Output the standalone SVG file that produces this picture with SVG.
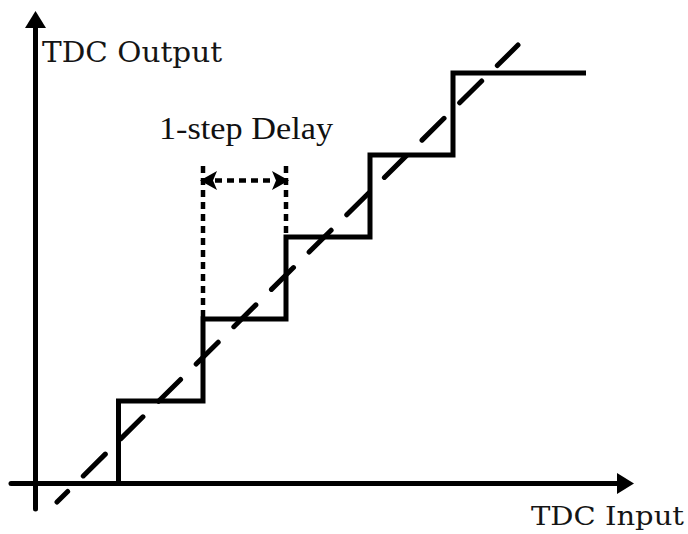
<svg xmlns="http://www.w3.org/2000/svg" width="688" height="534" viewBox="0 0 688 534">
  <style>
    .axis { stroke: #000; stroke-width: 5; fill: none; stroke-linecap: round; }
    .step { stroke: #000; stroke-width: 5; fill: none; stroke-linejoin: miter; stroke-linecap: butt; }
    .ideal { stroke: #000; stroke-width: 5; fill: none; stroke-dasharray: 31 22; stroke-dashoffset: 16; stroke-linecap: round; }
    .dot { stroke: #000; stroke-width: 4.5; fill: none; stroke-dasharray: 7 5; }
    .lbl { font-family: "DejaVu Serif", "Liberation Serif", serif; fill: #151515; }
  </style>
  <rect width="688" height="534" fill="#fff"/>

  <g id="axes">
    <line class="axis" x1="35.5" y1="509" x2="35.5" y2="26"/>
    <polygon points="35.5,11 46,28 25,28" fill="#000"/>
    <line class="axis" x1="11" y1="483.5" x2="618" y2="483.5"/>
    <polygon points="634,483.5 617,473 617,494" fill="#000"/>
  </g>

  <g id="ideal-line">
    <line class="ideal" x1="57" y1="502" x2="518" y2="45"/>
  </g>

  <g id="staircase">
    <polyline class="step" points="118.5,483 118.5,401 203,401 203,319 286,319 286,237 370,237 370,155 453,155 453,73 586,73"/>
  </g>

  <g id="delay-marker">
    <line class="dot" x1="203" y1="166" x2="203" y2="318"/>
    <line class="dot" x1="286" y1="166" x2="286" y2="236"/>
    <line class="dot" x1="215" y1="180.5" x2="275" y2="180.5"/>
    <polygon points="200,180.5 217,171 213,180.5 217,190" fill="#000"/>
    <polygon points="289,180.5 272,171 276,180.5 272,190" fill="#000"/>
  </g>

  <g id="labels">
    <text class="lbl" x="42" y="62" font-size="27" textLength="180" lengthAdjust="spacingAndGlyphs">TDC Output</text>
    <text x="159" y="139" font-family="'Liberation Serif', serif" font-size="32" fill="#111" textLength="174" lengthAdjust="spacingAndGlyphs">1-step Delay</text>
    <text class="lbl" x="531" y="525" font-size="26" textLength="153" lengthAdjust="spacingAndGlyphs">TDC Input</text>
  </g>
</svg>
